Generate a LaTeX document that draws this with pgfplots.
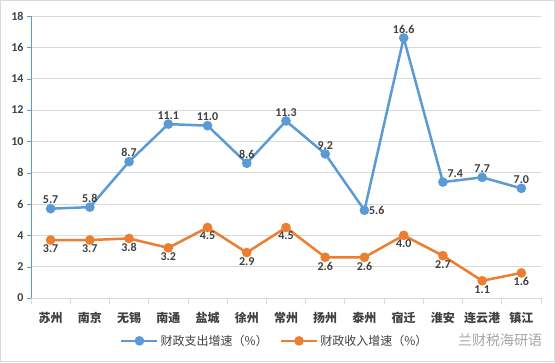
\documentclass[border=0pt]{standalone}
\usepackage{pgfplots}
\pgfplotsset{compat=1.18}
\usepackage{fontspec}
\setmainfont{Carlito}
\newfontfamily\cjk{Noto Sans CJK SC}
\definecolor{cblue}{HTML}{5B9BD5}
\definecolor{corange}{HTML}{ED7D31}
\definecolor{ctext}{HTML}{404040}
\definecolor{cgrid}{HTML}{D9D9D9}
\pgfplotsset{lbl/.style={
  forget plot, only marks, mark=none,
  nodes near coords,
  nodes near coords style={anchor=#1, font=\bfseries\fontsize{12}{12}\selectfont, text=ctext, inner sep=4.5pt,
    /pgf/number format/fixed, /pgf/number format/fixed zerofill, /pgf/number format/precision=1},
}}
\begin{document}
\begin{tikzpicture}[x=1pt,y=1pt]
\fill[white] (0,0) rectangle (555,362);
\draw[cgrid] (0.5,0.5) rectangle (554.5,361.5);
\begin{axis}[
  at={(31pt,64pt)}, anchor=south west,
  scale only axis, width=510pt, height=282pt,
  xmin=-0.5, xmax=12.5, ymin=0, ymax=18,
  ytick={0,2,...,18},
  xtick={0,...,12},
  xticklabels={苏州,南京,无锡,南通,盐城,徐州,常州,扬州,泰州,宿迁,淮安,连云港,镇江},
  x tick label style={font=\cjk\bfseries\fontsize{12}{12}\selectfont, text=ctext, yshift=-7pt},
  y tick label style={font=\bfseries\fontsize{12}{12}\selectfont, text=ctext},
  /pgf/number format/assume math mode=true,
  major x tick style={draw=none},
  minor xtick={-0.5,0.5,...,12.5},
  minor x tick style={cgrid, thick},
  minor tick length=6pt,
  tick align=outside,
  major tick length=4pt,
  y tick style={cblue},
  ymajorgrids, grid style={cgrid, line width=0.8pt},
  axis x line*=bottom, axis y line*=left,
  x axis line style={cgrid, line width=0.8pt, -},
  y axis line style={cblue, line width=0.8pt, -},
  clip=false,
  legend columns=2,
  legend style={at={(0.478,-0.152)}, anchor=center, draw=none, fill=none,
    font=\cjk\fontsize{12}{12}\selectfont, text=ctext,
    /tikz/every even column/.append style={column sep=10pt}},
  legend image code/.code={\draw[#1, line width=2.5pt] (0pt,0pt) -- (36pt,0pt);
    \fill[#1] (18pt,0pt) circle (3.5pt);},
]
\addplot[cblue, line width=2.5pt, mark=*, mark size=3.5pt] coordinates {
(0,5.7) (1,5.8) (2,8.7) (3,11.1) (4,11.0) (5,8.6) (6,11.3) (7,9.2) (8,5.6) (9,16.6) (10,7.4) (11,7.7) (12,7.0)};
\addlegendentry{财政支出增速（\%）}
\addplot[corange, line width=2.5pt, mark=*, mark size=3.5pt] coordinates {
(0,3.7) (1,3.7) (2,3.8) (3,3.2) (4,4.5) (5,2.9) (6,4.5) (7,2.6) (8,2.6) (9,4.0) (10,2.7) (11,1.1) (12,1.6)};
\addlegendentry{财政收入增速（\%）}
% labels
\addplot[lbl=south] coordinates {
(0,5.7) (1,5.8) (2,8.7) (3,11.1) (4,11.0) (5,8.6) (6,11.3) (7,9.2) (9,16.6) (11,7.7) (12,7.0)};
\addplot[lbl=west] coordinates {(8,5.6)};
\addplot[lbl=south west] coordinates {(10,7.4)};
\addplot[lbl=north] coordinates {
(0,3.7) (1,3.7) (2,3.8) (3,3.2) (4,4.5) (5,2.9) (6,4.5) (7,2.6) (8,2.6) (9,4.0) (10,2.7) (11,1.1) (12,1.6)};
\end{axis}
\node[anchor=center, text=gray!70, font=\cjk\fontsize{14}{14}\selectfont] at (500,22) {兰财税海研语};
\end{tikzpicture}
\end{document}
